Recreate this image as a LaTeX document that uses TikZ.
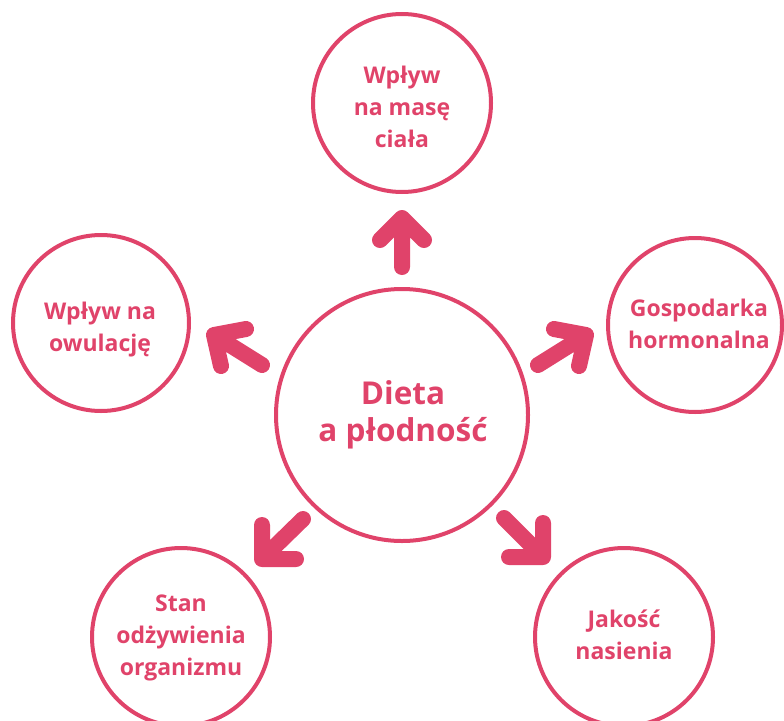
\documentclass[tikz,border=0pt]{standalone}
\usepackage{fontspec}
\setmainfont{Open Sans}
\definecolor{rose}{RGB}{224,67,106}
\begin{document}
\begin{tikzpicture}[x=1pt,y=-1pt,
  ring/.style={draw=rose,line width=4pt,circle},
  lbl/.style={text=rose,align=center,font=\bfseries\fontsize{23}{32}\selectfont,inner sep=0pt},
  biglbl/.style={text=rose,align=center,font=\bfseries\fontsize{31.5}{37}\selectfont,inner sep=0pt},
  thickarrow/.style={draw=rose,line width=16pt,line cap=round,line join=round}]
\useasboundingbox (0,0) rectangle (784,720);
% circles
\draw[ring] (402,415) circle (126);
\draw[ring] (402,103) circle (89);
\draw[ring] (695,325) circle (87);
\draw[ring] (101,323) circle (88);
\draw[ring] (181,637) circle (89);
\draw[ring] (624,637) circle (89);
% texts
\node[biglbl] (c) at (403,415) {Dieta\\a płodność};
\node[lbl] (t) at (402,107) {Wpływ\\na masę\\ciała};
\node[lbl] (r) at (699,324) {Gospodarka\\hormonalna};
\node[lbl] (l) at (100,330) {Wpływ na\\owulację};
\node[lbl] (bl) at (181,638) {Stan\\odżywienia\\organizmu};
\node[lbl] (br) at (624,635) {Jakość\\nasienia};
% arrows
\coordinate (tv) at (402,218); \coordinate (ta1) at (380,240); \coordinate (ta2) at (424,240); \coordinate (ts) at (402,267);
\draw[thickarrow] (ta1) -- (tv) -- (ta2) (ts) -- (tv);
\coordinate (lv) at (214,335); \coordinate (la1) at (246,329); \coordinate (la2) at (221,366); \coordinate (ls) at (262,365);
\draw[thickarrow] (la1) -- (lv) -- (la2) (ls) -- (lv);
\coordinate (rv) at (586,335); \coordinate (ra1) at (554,329); \coordinate (ra2) at (579,366); \coordinate (rs) at (538,365);
\draw[thickarrow] (ra1) -- (rv) -- (ra2) (rs) -- (rv);
\coordinate (blv) at (262,559); \coordinate (bla1) at (262,525); \coordinate (bla2) at (296,559); \coordinate (bls) at (303,519);
\draw[thickarrow] (bla1) -- (blv) -- (bla2) (bls) -- (blv);
\coordinate (brv) at (543,557); \coordinate (bra1) at (543,523); \coordinate (bra2) at (509,557); \coordinate (brs) at (504,518);
\draw[thickarrow] (bra1) -- (brv) -- (bra2) (brs) -- (brv);
\end{tikzpicture}
\end{document}
